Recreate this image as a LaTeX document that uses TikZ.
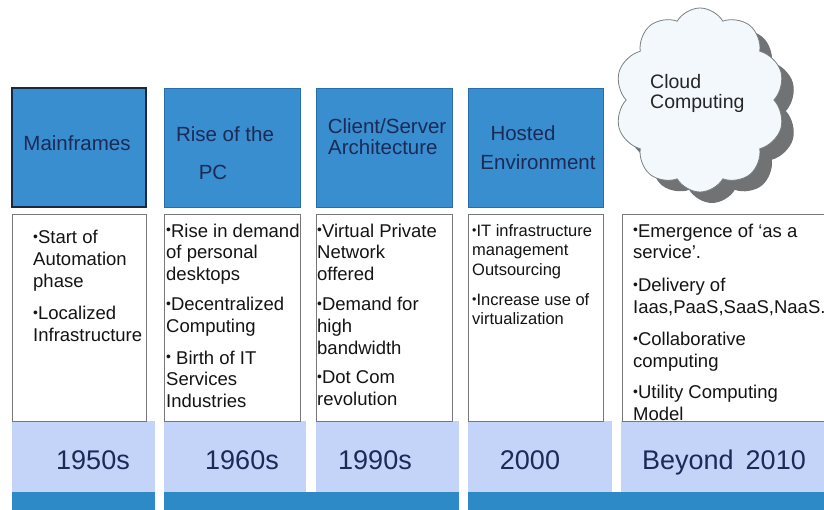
\documentclass[tikz,border=0pt]{standalone}
\usepackage{graphicx}
\usepackage{fontspec}
\setmainfont{Liberation Sans}
\usetikzlibrary{shapes.symbols}
\definecolor{topblue}{RGB}{56,142,206}
\definecolor{topedge}{RGB}{40,110,170}
\definecolor{darkedge}{RGB}{25,40,65}
\definecolor{navytxt}{RGB}{28,42,88}
\definecolor{lav}{RGB}{196,211,248}
\definecolor{barblue}{RGB}{46,138,198}
\definecolor{boxedge}{RGB}{120,120,120}
\definecolor{bodycol}{RGB}{20,20,20}
\definecolor{cloudfill}{RGB}{242,248,252}
\definecolor{cloudedge}{RGB}{120,128,128}
\definecolor{cloudshadow}{RGB}{112,114,116}
\newcommand{\mybul}{\raisebox{0.22ex}{\scalebox{0.75}{•}}}
\begin{document}
\begin{tikzpicture}[x=1pt,y=-1pt,
  topbox/.style={fill=topblue, draw=topedge, line width=0.8pt, inner sep=0},
  whitebox/.style={fill=white, draw=boxedge, line width=0.8pt, inner sep=0},
  toplabel/.style={inner sep=0, text=navytxt, font=\fontsize{20.5}{24}\selectfont},
  yearlabel/.style={inner sep=0, anchor=base, text=navytxt, font=\fontsize{27}{30}\selectfont},
  bodytxt/.style={inner sep=0, align=left, anchor=north west, text=bodycol, font=\fontsize{18.5}{21.8}\selectfont},
  smalltxt/.style={inner sep=0, align=left, anchor=north west, text=bodycol, font=\fontsize{16.5}{19.2}\selectfont},
  cloudtxt/.style={inner sep=0, anchor=west, text={black!85}, font=\fontsize{19.5}{22}\selectfont},
  cloudshape/.style={cloud, cloud puffs=10, cloud puff arc=120, cloud ignores aspect, minimum width=170, minimum height=184, inner sep=0}]
\useasboundingbox (0,0) rectangle (824,510);
\fill[white] (0,0) rectangle (824,510);

% year bands
\fill[lav] (12,421) rectangle (155,492);
\fill[lav] (164,421) rectangle (306,492);
\fill[lav] (316,421) rectangle (459,492);
\fill[lav] (468,421) rectangle (612,492);
\fill[lav] (621,421) rectangle (824,492);
\fill[barblue] (12,492) rectangle (155,510);
\fill[barblue] (164,492) rectangle (459,510);
\fill[barblue] (468,492) rectangle (824,510);

% top boxes
\node (t1) [topbox, draw=darkedge, line width=1.3pt, minimum width=134, minimum height=119] at (79,147.5) {};
\node (t2) [topbox, minimum width=136, minimum height=119] at (232,147.5) {};
\node (t3) [topbox, minimum width=136, minimum height=119] at (384,147.5) {};
\node (t4) [topbox, minimum width=135, minimum height=119] at (535.5,147.5) {};

% cloud
\node (cs) [cloudshape, fill=cloudshadow] at (712,111) {};
\node (cl) [cloudshape, fill=cloudfill, draw=cloudedge, line width=0.8pt] at (700,100) {};

% labels in top boxes
\node (l1) [toplabel] at (77,143) {Mainframes};
\node (l2a) [toplabel] at (225,134) {Rise of the};
\node (l2b) [toplabel] at (213,172) {PC};
\node (l3a) [toplabel] at (387,126) {Client/Server};
\node (l3b) [toplabel, anchor=west] at (328,147) {Architecture};
\node (l4a) [toplabel] at (523,133) {Hosted};
\node (l4b) [toplabel] at (538,162) {Environment};
\node (l5a) [cloudtxt] at (650,82) {Cloud};
\node (l5b) [cloudtxt] at (650,103) {Computing};

% lower white boxes
\node (w1) [whitebox, minimum width=134, minimum height=207] at (79,317.5) {};
\node (w2) [whitebox, minimum width=136, minimum height=207] at (232,317.5) {};
\node (w3) [whitebox, minimum width=136, minimum height=207] at (384,317.5) {};
\node (w4) [whitebox, minimum width=135, minimum height=207] at (535.5,317.5) {};
\node (w5) [whitebox, minimum width=206, minimum height=207] at (725,317.5) {};

% body texts
\node (b1) [bodytxt] at (33,230) {\mybul Start of\\Automation\\phase\\[11pt]\mybul Localized\\Infrastructure};
\node (b2) [bodytxt] at (166,223.5) {\mybul Rise in demand\\of personal\\desktops\\[8pt]\mybul Decentralized\\Computing\\[10pt]\mybul{} Birth of IT\\Services\\Industries};
\node (b3) [bodytxt] at (317,223.5) {\mybul Virtual Private\\Network\\offered\\[8pt]\mybul Demand for\\high\\bandwidth\\[8pt]\mybul Dot Com\\revolution};
\node (b4) [smalltxt] at (472,224.5) {\mybul IT infrastructure\\management\\Outsourcing\\[11pt]\mybul Increase use of\\virtualization};
\node (b5) [bodytxt] at (633,223.5) {\mybul Emergence of ‘as a\\service’.\\[11pt]\mybul Delivery of\\Iaas,PaaS,SaaS,NaaS.\\[10pt]\mybul Collaborative\\computing\\[10pt]\mybul Utility Computing\\Model};

% years
\node (y1) [yearlabel] at (93,469) {1950s};
\node (y2) [yearlabel] at (242,469) {1960s};
\node (y3) [yearlabel] at (375,469) {1990s};
\node (y4) [yearlabel] at (530,469) {2000};
\node (y5) [yearlabel] at (724,469) {Beyond\ \,2010};
\end{tikzpicture}
\end{document}
